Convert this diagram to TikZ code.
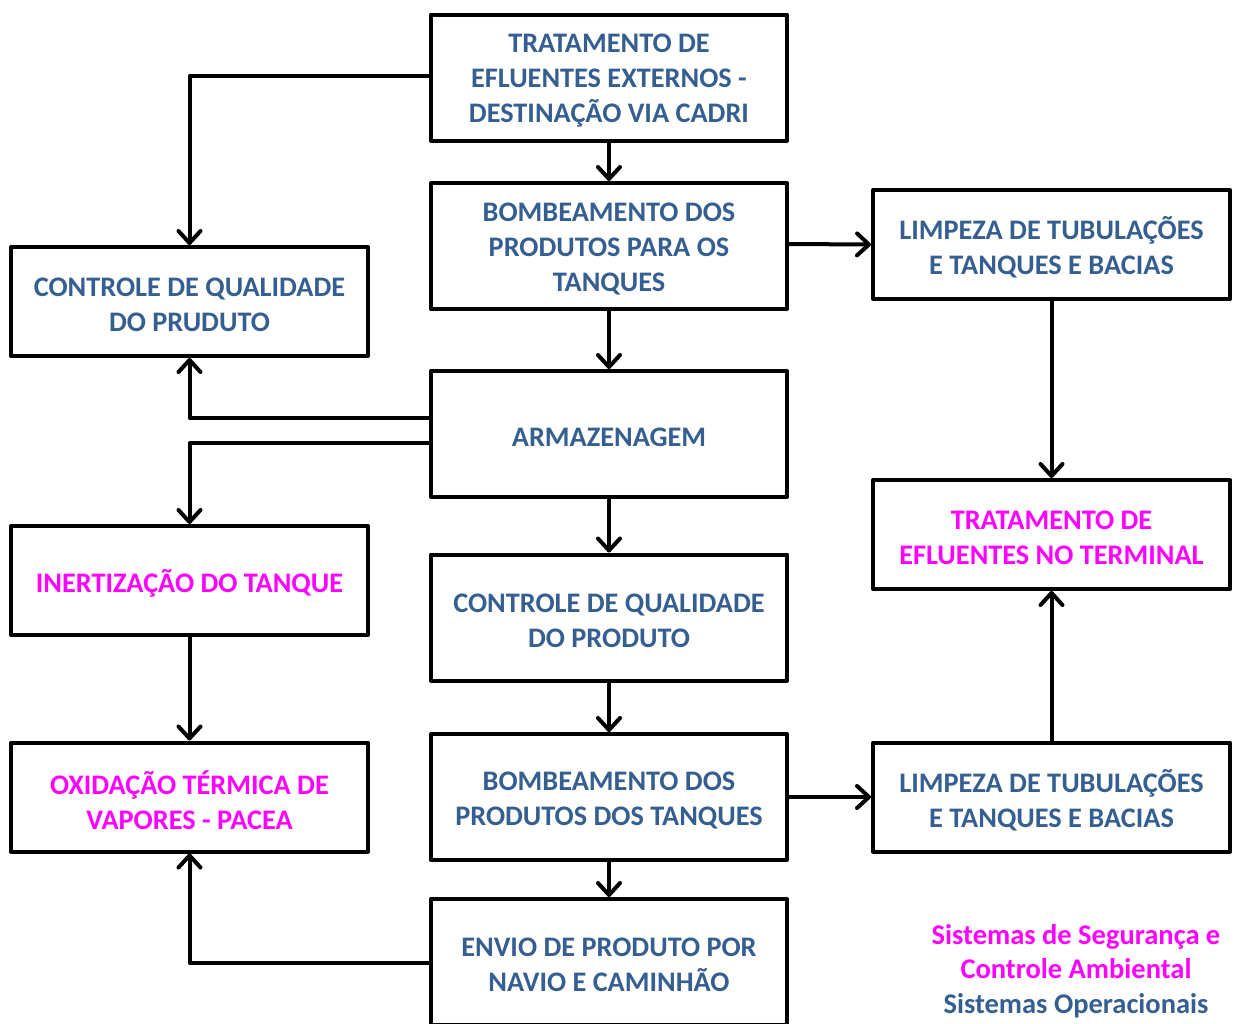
\documentclass[tikz,border=0pt]{standalone}
\usepackage{fontspec}
\setmainfont{Carlito}
\usetikzlibrary{arrows.meta}
\definecolor{opblue}{HTML}{365F91}
\definecolor{segmag}{HTML}{FF00FF}
\tikzset{
  box/.style={draw=black, line width=4pt, line join=round, fill=white, inner sep=0pt},
  cbox/.style={box, minimum width=356pt, minimum height=126pt},
  sbox/.style={box, minimum width=357pt, minimum height=109pt},
  txt/.style={align=center, inner sep=0pt, yshift=-3pt,
    font=\fontsize{28.3}{35}\selectfont\bfseries, text=opblue},
  seg/.style={text=segmag},
  conn/.style={line width=4pt, line join=round, line cap=round,
    -{Straight Barb[length=12pt,width=22pt,line cap=round,line join=round]}},
}
\begin{document}
\begin{tikzpicture}[x=1pt,y=-1pt]
\useasboundingbox (0,0) rectangle (1236,1023);
\clip (0,0) rectangle (1236,1023);
% center column
\node[cbox] (c1) at (609,77.5) {};
\node[txt] (c1t) at (c1.center) {TRATAMENTO DE\\EFLUENTES EXTERNOS -\\DESTINAÇÃO VIA CADRI};
\node[cbox] (c2) at (609,246) {};
\node[txt] (c2t) at (c2.center) {BOMBEAMENTO DOS\\PRODUTOS PARA OS\\TANQUES};
\node[cbox] (c3) at (609,434) {};
\node[txt] (c3t) at (c3.center) {ARMAZENAGEM};
\node[cbox] (c4) at (609,617.5) {};
\node[txt] (c4t) at (c4.center) {CONTROLE DE QUALIDADE\\DO PRODUTO};
\node[cbox] (c5) at (609,797) {};
\node[txt] (c5t) at (c5.center) {BOMBEAMENTO DOS\\PRODUTOS DOS TANQUES};
\node[cbox] (c6) at (609,962) {};
\node[txt] (c6t) at (c6.center) {ENVIO DE PRODUTO POR\\NAVIO E CAMINHÃO};
% left column
\node[sbox] (l1) at (189.5,301.5) {};
\node[txt] (l1t) at (l1.center) {CONTROLE DE QUALIDADE\\DO PRUDUTO};
\node[sbox] (l2) at (189.5,580.5) {};
\node[txt,seg] (l2t) at (l2.center) {INERTIZAÇÃO DO TANQUE};
\node[sbox] (l3) at (189.5,797) {};
\node[txt,seg] (l3t) at (l3.center) {OXIDAÇÃO TÉRMICA DE\\VAPORES - PACEA};
% right column
\node[sbox] (r1) at (1051.5,244.5) {};
\node[txt] (r1t) at (r1.center) {LIMPEZA DE TUBULAÇÕES\\E TANQUES E BACIAS};
\node[sbox] (r2) at (1051.5,534.5) {};
\node[txt,seg] (r2t) at (r2.center) {TRATAMENTO DE\\EFLUENTES NO TERMINAL};
\node[sbox] (r3) at (1051.5,797) {};
\node[txt] (r3t) at (r3.center) {LIMPEZA DE TUBULAÇÕES\\E TANQUES E BACIAS};
% legend
\node[align=center, font=\fontsize{28.5}{34.5}\selectfont\bfseries, inner sep=0pt] (leg) at (1076,971)
  {\textcolor{segmag}{Sistemas de Segurança e}\\\textcolor{segmag}{Controle Ambiental}\\\textcolor{opblue}{Sistemas Operacionais}};
% connector helper points
\coordinate (a1) at (c1.west |- 0,76);
\coordinate (a3u) at (c3.west |- 0,418);
\coordinate (a3d) at (c3.west |- 0,443);
\coordinate (a6) at (c6.west |- 0,963);
% connectors
\draw[conn] (a1) -| (l1.north);
\draw[conn] (c1.south) -- (c2.north);
\draw[conn] (c2.east |- 0,244) -- (r1.west);
\draw[conn] (c2.south) -- (c3.north);
\draw[conn] (a3u) -| (l1.south);
\draw[conn] (a3d) -| (l2.north);
\draw[conn] (c3.south) -- (c4.north);
\draw[conn] (r1.south) -- (r2.north);
\draw[conn] (l2.south) -- (l3.north);
\draw[conn] (c4.south) -- (c5.north);
\draw[conn] (c5.east) -- (r3.west);
\draw[conn] (r3.north) -- (r2.south);
\draw[conn] (c5.south) -- (c6.north);
\draw[conn] (a6) -| (l3.south);
\end{tikzpicture}
\end{document}
